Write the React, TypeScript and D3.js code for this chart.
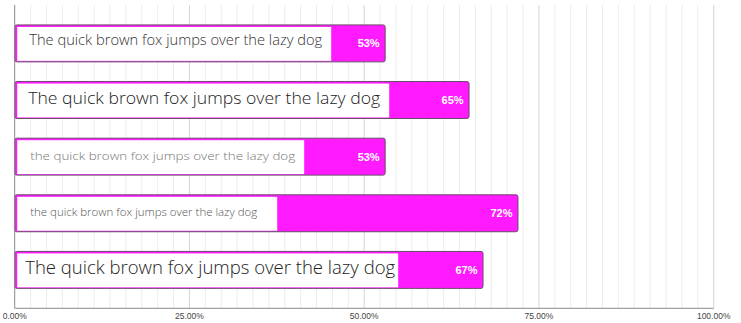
import React from "react";
import * as d3 from "d3";

const categories = ["Sample 1", "Sample 2", "Sample 3", "Sample 4", "Sample 5"];
const values = [0.53, 0.65, 0.53, 0.72, 0.67];
const notes = [
  "The quick brown fox jumps over the lazy dog",
  "The quick brown fox jumps over the lazy dog",
  "the quick brown fox jumps over the lazy dog",
  "the quick brown fox jumps over the lazy dog",
  "The quick brown fox jumps over the lazy dog",
];
const majorTicks = [0, 0.25, 0.5, 0.75, 1];
const minorPerMajor = 10;

// presentation of the handwriting notes (style only)
const noteStyles = [
  { size: 14, color: "#333", pad: 12, textW: 293, boxW: 314, dy: 2 },
  { size: 16.5, color: "#222", pad: 11, textW: 352, boxW: 372, dy: 4 },
  { size: 11.5, color: "#777", pad: 13, textW: 265, boxW: 287, dy: 3.5 },
  { size: 10, color: "#555", pad: 13, textW: 227, boxW: 260, dy: 2.5 },
  { size: 18, color: "#222", pad: 8, textW: 370, boxW: 381, dy: 4.5 },
];

const W = 741;
const H = 323;
const left = 14.7;
const right = 713.7;
const top = 5;
const bottom = 308.3;

export default function App() {
  const x = d3.scaleLinear().domain([0, 1]).range([left, right]);
  const y = d3
    .scaleBand<string>()
    .domain(categories)
    .range([top, bottom])
    .paddingInner(0.348)
    .paddingOuter(0.352);

  const minorTicks: number[] = [];
  for (let i = 0; i < majorTicks.length - 1; i++) {
    const a = majorTicks[i];
    const b = majorTicks[i + 1];
    for (let k = 1; k <= minorPerMajor; k++) {
      minorTicks.push(a + ((b - a) * k) / (minorPerMajor + 1));
    }
  }
  const fmt = d3.format(".2%");
  const bh = y.bandwidth();

  return (
    <div style={{ position: "absolute", left: 0, top: 0 }}>
      <svg width={W} height={H} style={{ display: "block", background: "#fff" }}>
        {minorTicks.map((t, i) => (
          <line key={"m" + i} x1={x(t)} x2={x(t)} y1={top} y2={bottom} stroke="#ececec" strokeWidth={1} />
        ))}
        {majorTicks.slice(1).map((t, i) => (
          <line key={"M" + i} x1={x(t)} x2={x(t)} y1={top} y2={bottom} stroke="#d6d6d6" strokeWidth={1} />
        ))}
        {categories.map((c, i) => {
          const y0 = y(c)!;
          const x0 = x(0);
          const x1 = x(values[i]);
          const s = noteStyles[i];
          const cy = y0 + bh / 2;
          return (
            <g key={c}>
              <rect x={x0} y={y0} width={x1 - x0} height={bh} rx={2} ry={2} fill="#ff1aff" stroke="#6b4a6b" strokeWidth={1} />
              <rect x={x0 + 2.5} y={y0 + 2} width={s.boxW} height={bh - 3} fill="#ffffff" />
              <text
                x={x0 + 2.5 + s.pad}
                y={cy + s.dy}
                fontFamily="'Open Sans', 'DejaVu Sans', sans-serif"
                fontWeight={300}
                fontSize={s.size}
                fill={s.color}
                textLength={s.textW}
                lengthAdjust="spacingAndGlyphs"
              >
                {notes[i]}
              </text>
              <text
                x={x1 - 5.5}
                y={cy}
                textAnchor="end"
                dominantBaseline="central"
                fontFamily="'Liberation Sans', Arial, sans-serif"
                fontWeight="bold"
                fontSize={11}
                fill="#ffffff"
              >
                {Math.round(values[i] * 100) + "%"}
              </text>
            </g>
          );
        })}
        <line x1={left} x2={left} y1={top} y2={bottom} stroke="#8a8a8a" strokeWidth={1} />
        <line x1={left} x2={right} y1={bottom} y2={bottom} stroke="#8a8a8a" strokeWidth={1} />
        {majorTicks.map((t, i) => (
          <text
            key={"t" + i}
            x={x(t)}
            y={318.5}
            textAnchor="middle"
            fontFamily="'Liberation Sans', Arial, sans-serif"
            fontSize={8.5}
            fill="#444"
          >
            {fmt(t)}
          </text>
        ))}
      </svg>
    </div>
  );
}
